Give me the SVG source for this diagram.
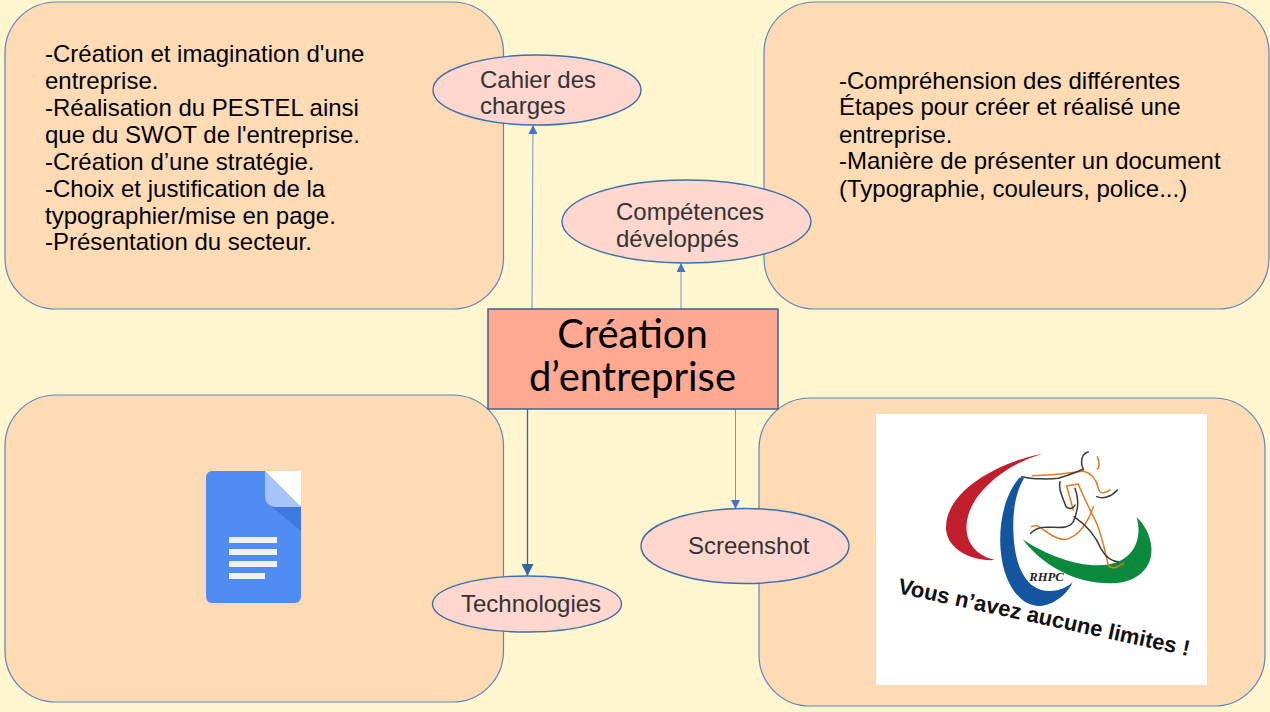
<svg xmlns="http://www.w3.org/2000/svg" width="1270" height="712" viewBox="0 0 1270 712">
<style>
.panel{fill:#ffdbb5;stroke:#5b87b8;stroke-width:1.2}
.oval{fill:#ffd7ce;stroke:#3f6fa8;stroke-width:1.4}
.body{font-family:"Liberation Sans",Arial,sans-serif;font-size:24px;fill:#000}
.lab{font-family:"Liberation Sans",Arial,sans-serif;font-size:24px;fill:#333}
.title{font-family:Lato,"Open Sans",sans-serif;font-size:40px;fill:#000;text-anchor:middle}
.conn{fill:none;stroke:#6f93c6;stroke-width:1}
.run{fill:none;stroke-linecap:round;stroke-linejoin:round}
</style>
<defs>
<marker id="a" viewBox="0 0 10 10" refX="10" refY="5" markerWidth="9" markerHeight="9" markerUnits="userSpaceOnUse" orient="auto"><path d="M0 0L10 5L0 10Z" fill="#4472c4"/></marker>
<marker id="b" viewBox="0 0 10 10" refX="10" refY="5" markerWidth="12" markerHeight="12" markerUnits="userSpaceOnUse" orient="auto"><path d="M0 0L10 5L0 10Z" fill="#3465a4"/></marker>
</defs>
<rect width="1270" height="712" fill="#fff5ce"/>

<g id="panel-top-left">
<rect class="panel" x="5" y="2" width="498.500" height="307" rx="51"/>
<text class="body"><tspan x="45" y="62">-Création et imagination d'une</tspan><tspan x="45" y="89">entreprise.</tspan><tspan x="45" y="116">-Réalisation du PESTEL ainsi</tspan><tspan x="45" y="143">que du SWOT de l'entreprise.</tspan><tspan x="45" y="170">-Création d’une stratégie.</tspan><tspan x="45" y="197">-Choix et justification de la</tspan><tspan x="45" y="224">typographier/mise en page.</tspan><tspan x="45" y="250">-Présentation du secteur.</tspan></text>
</g>
<g id="panel-top-right">
<rect class="panel" x="764" y="2" width="505" height="307" rx="51"/>
<text class="body"><tspan x="839" y="89">-Compréhension des différentes</tspan><tspan x="839" y="115">Étapes pour créer et réalisé une</tspan><tspan x="839" y="143">entreprise.</tspan><tspan x="839" y="169">-Manière de présenter un document</tspan><tspan x="839" y="197">(Typographie, couleurs, police...)</tspan></text>
</g>
<g id="panel-bottom-left">
<rect class="panel" x="5" y="395" width="498.500" height="307" rx="51"/>
<g id="docs-icon">
<path d="M212 471H265L301 507V597a6 6 0 0 1-6 6H212a6 6 0 0 1-6-6V477a6 6 0 0 1 6-6Z" fill="#4f8df5"/>
<path d="M265 471H301V507Z" fill="#fff"/>
<path d="M271 506H301V531Z" fill="#3f78de"/>
<path d="M265 471L301 507H275a10 10 0 0 1-10-10Z" fill="#a6c3fa"/>
<g fill="#f1f1f1"><rect x="229" y="537" width="48" height="6"/><rect x="229" y="549" width="48" height="6"/><rect x="229" y="561" width="48" height="6"/><rect x="229" y="573" width="36" height="6"/></g>
</g>
</g>
<g id="panel-bottom-right">
<rect class="panel" x="759" y="398" width="506" height="308" rx="51"/>
<g id="logo">
<rect x="876" y="414" width="331" height="271" fill="#fff"/>
<g transform="translate(870 410) scale(.3333)">
<path d="M518 131C390 155 226 240 228 355C230 415 300 455 375 450C315 435 285 395 290 340C298 255 400 165 518 131Z" fill="#c21f2e"/>
<path d="M450 202C405 250 385 340 392 420C400 520 450 590 510 588C550 586 590 555 608 517C575 545 525 555 485 525C445 490 432 430 430 360C428 300 438 245 462 205Z" fill="#13559f"/>
<path d="M458 388C520 470 620 522 725 520C805 518 850 470 844 410C840 370 820 340 800 322C815 375 800 425 755 450C680 490 550 450 458 388Z" fill="#0b8a3e"/>
<g class="run" stroke="#e8781f" stroke-width="4.500">
<path d="M488 197C540 195 600 190 640 183C665 190 680 210 685 235C690 255 705 250 720 240"/>
<path d="M590 228L625 222C640 260 665 310 680 340C700 390 708 440 715 465C725 482 745 470 762 460"/>
<path d="M670 290C655 335 630 375 590 388C560 392 530 365 510 352C500 345 490 348 485 350"/>
<path d="M590 228L610 300"/>
<path d="M682 140C690 160 690 170 682 178"/>
</g>
<g class="run" stroke="#3a3a3a" stroke-width="4.500">
<path d="M455 200C490 208 540 208 565 205C600 195 620 185 640 178C630 155 635 130 655 126"/>
<path d="M570 215C565 235 575 255 588 290C600 300 610 295 615 285"/>
<path d="M615 235C625 260 630 290 610 335C595 360 560 350 525 352C505 352 490 362 482 370"/>
<path d="M612 320C650 345 680 385 695 420C710 445 725 455 745 455"/>
<path d="M680 260C700 268 725 260 742 240"/>
</g>
<text x="478" y="513" font-family="'Liberation Serif',serif" font-style="italic" font-weight="bold" font-size="38" fill="#222">RHPC</text>
</g>
<text transform="translate(897 593) rotate(12.200)" font-family="'Liberation Sans',Arial,sans-serif" font-weight="bold" font-size="22" fill="#111">Vous n’avez aucune limites !</text>
</g>
</g>

<g id="connectors">
<path class="conn" d="M532 309L533 125" marker-end="url(#a)"/>
<path class="conn" d="M681 309V263" marker-end="url(#a)"/>
<path class="conn" d="M527.500 409V576" marker-end="url(#b)" style="stroke:#3465a4;stroke-width:1.3"/>
<path class="conn" d="M735.500 409V509" marker-end="url(#a)"/>
</g>

<g id="node-cahier">
<ellipse class="oval" cx="537" cy="90" rx="104" ry="35"/>
<text class="lab"><tspan x="480" y="88">Cahier des</tspan><tspan x="480" y="114">charges</tspan></text>
</g>
<g id="node-competences">
<ellipse class="oval" cx="686.500" cy="221.500" rx="124.500" ry="41.500"/>
<text class="lab"><tspan x="616" y="220">Compétences</tspan><tspan x="616" y="247">développés</tspan></text>
</g>
<g id="node-technologies">
<ellipse class="oval" cx="527" cy="604" rx="94.500" ry="28"/>
<text class="lab" x="461" y="612">Technologies</text>
</g>
<g id="node-screenshot">
<ellipse class="oval" cx="745" cy="546" rx="104" ry="37.500"/>
<text class="lab" x="688" y="554">Screenshot</text>
</g>
<g id="node-center">
<rect x="488" y="309" width="290" height="100" fill="#ffa892" stroke="#3f638f" stroke-width="1.5"/>
<text class="title"><tspan x="632.500" y="348">Création</tspan><tspan x="632.500" y="391">d’entreprise</tspan></text>
</g>
</svg>
